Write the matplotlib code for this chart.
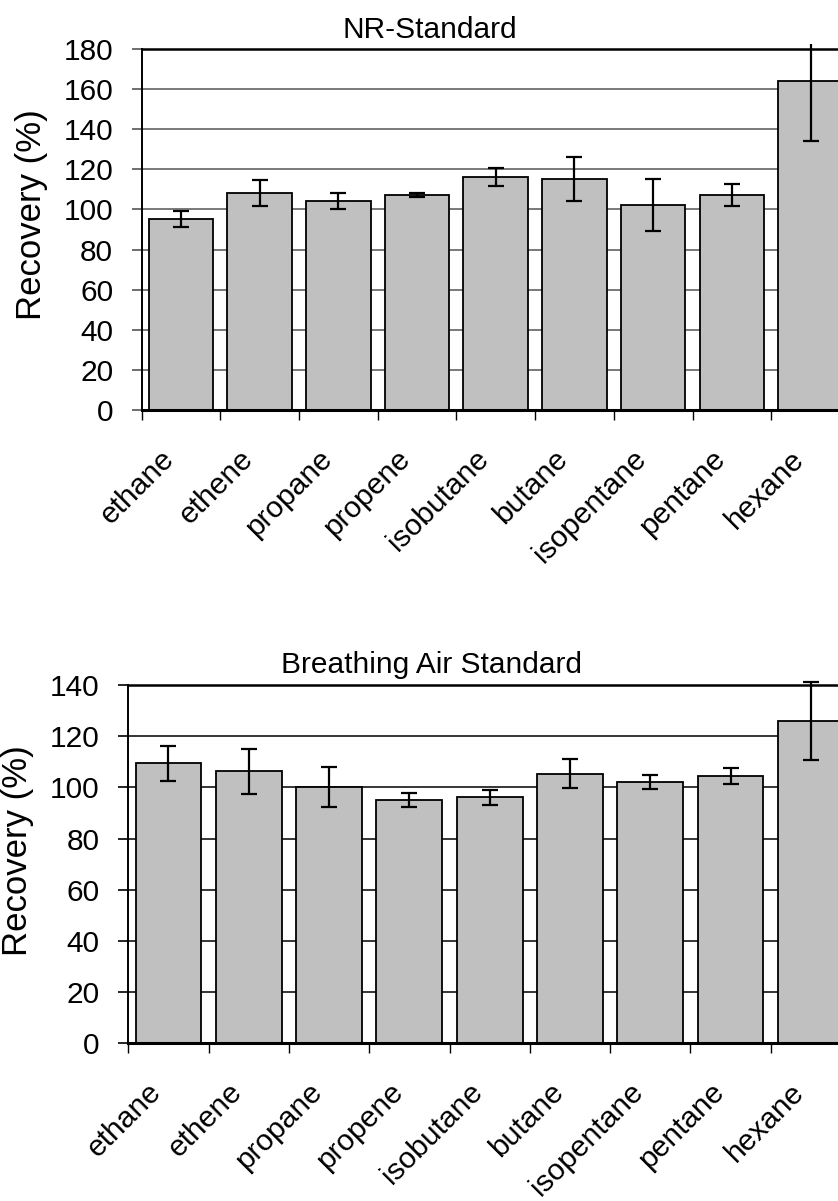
import matplotlib
matplotlib.use("Agg")
import matplotlib.pyplot as plt
from matplotlib.transforms import Bbox, ScaledTranslation
import numpy as np

plt.rcParams['font.family'] = ['Liberation Sans', 'DejaVu Sans']

compounds = ["ethane", "ethene", "propane", "propene", "isobutane",
             "butane", "isopentane", "pentane", "hexane"]

# NR-Standard recovery (%) and its error
nr_recovery = [95.2, 108.2, 104.2, 107.2, 116.2, 115.2, 102.2, 107.2, 164.0]
nr_error = [4.0, 6.5, 4.0, 0.8, 4.5, 11.0, 13.0, 5.5, 30.0]

# Breathing Air Standard recovery (%) and its error
ba_recovery = [109.4, 106.3, 100.1, 95.2, 96.1, 105.4, 102.1, 104.6, 125.8]
ba_error = [6.8, 8.7, 7.8, 2.7, 3.0, 5.8, 2.7, 3.1, 15.2]

W, H = 838, 1201
fig = plt.figure(figsize=(W / 100, H / 100), dpi=100)


def px_axes(left, top, right, bottom):
    return fig.add_axes([left / W, (H - bottom) / H, (right - left) / W, (bottom - top) / H])


def draw_panel(ax, values, errors, ymax, grid_color, tick_color, title, title_xy, ylabel_xy):
    x = np.arange(len(compounds))
    ax.set_xlim(-0.5, len(compounds) - 0.5)
    ax.set_ylim(0, ymax)
    ax.set_yticks(np.arange(0, ymax + 1, 20))
    ax.yaxis.grid(True, color=grid_color, linewidth=1.1)
    ax.set_axisbelow(True)

    ax.bar(x, values, width=0.82, color="#C0C0C0", edgecolor="black", linewidth=1.3, zorder=2)
    eb = ax.errorbar(x, values, yerr=errors, fmt="none", ecolor="black",
                     elinewidth=1.6, capsize=5.5, capthick=1.6, zorder=3)

    # allow error bars to poke slightly past the plot frame
    fig.canvas.draw()
    bb = ax.get_window_extent()
    clip = Bbox.from_extents(bb.x0, bb.y0 - 5, bb.x1, bb.y1 + 5)
    for art in list(eb.lines[1]) + list(eb.lines[2]):
        art.set_clip_box(clip)

    ax.spines["right"].set_visible(False)
    ax.spines["top"].set_linewidth(1.8)
    ax.spines["left"].set_linewidth(1.4)
    ax.spines["bottom"].set_linewidth(2.2)

    ax.set_xticks(x)
    ax.set_xticklabels(compounds, rotation=45, ha="right", va="center",
                       rotation_mode="anchor", fontsize=21.5)
    ax.tick_params(axis="x", which="major", length=0, pad=32)
    shift = ScaledTranslation(-11 / 100, 0, fig.dpi_scale_trans)
    for lab in ax.get_xticklabels():
        lab.set_transform(lab.get_transform() + shift)
    ax.set_xticks(np.arange(-0.5, len(compounds) + 0.5, 1), minor=True)
    ax.tick_params(axis="x", which="minor", length=7.5, width=1.0, color="black", direction="out")
    ax.tick_params(axis="y", length=7.5, width=1.2, color=tick_color, pad=13, labelsize=21.5)

    fig.text(title_xy[0] / W, 1 - title_xy[1] / H, title, ha="center", va="baseline", fontsize=21.5)
    fig.text(ylabel_xy[0] / W, 1 - ylabel_xy[1] / H, "Recovery (%)", rotation=90,
             ha="center", va="center", fontsize=25)


ax1 = px_axes(141.6, 49, 849.9, 410)
draw_panel(ax1, nr_recovery, nr_error, 180, "#555555", "#555555",
           "NR-Standard", (430, 37.7), (31, 215))

ax2 = px_axes(128.3, 685, 851, 1043.3)
draw_panel(ax2, ba_recovery, ba_error, 140, "black", "black",
           "Breathing Air Standard", (431, 673), (18, 851))

fig.savefig("out.png", dpi=100)
